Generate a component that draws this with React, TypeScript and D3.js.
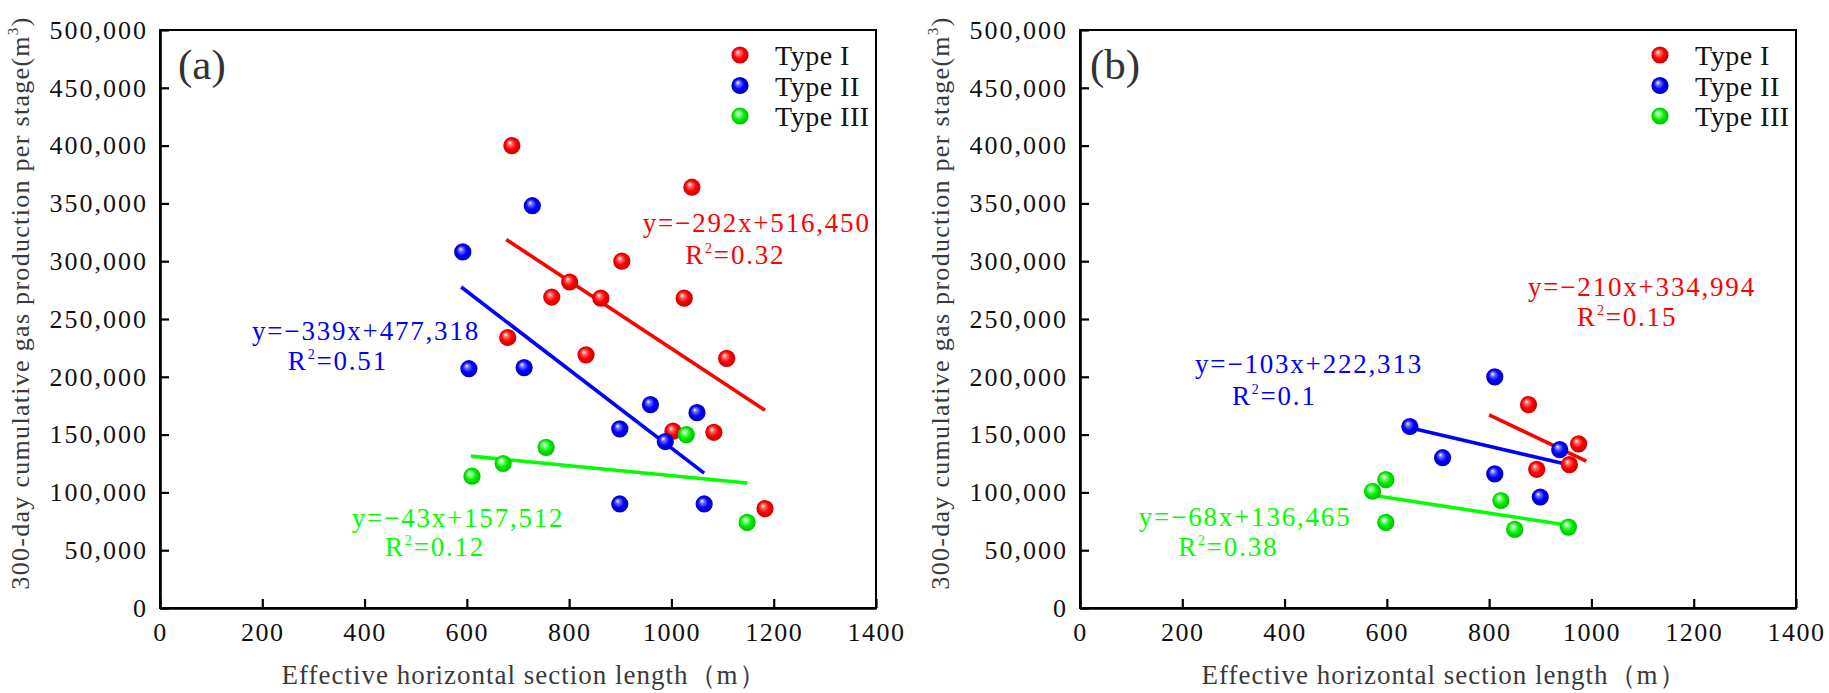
import { useEffect, useRef } from "react";
import * as d3 from "d3";

type Pt = [number, number];

// axis ticks
const xTicks = [0, 200, 400, 600, 800, 1000, 1200, 1400];
const yTicks = [0, 50000, 100000, 150000, 200000, 250000, 300000, 350000, 400000, 450000, 500000];

const seriesNames = ["Type I", "Type II", "Type III"];
const seriesColors = ["#ff0000", "#0000ff", "#00ff00"];

// panel (a) points: [length m, gas m3]
const aTypeI: Pt[] = [
  [688, 400000], [1040, 364000], [903, 300000], [801, 282000], [766, 269000],
  [862, 268000], [1025, 268000], [680, 234000], [833, 219000], [1108, 216000],
  [1003, 153000], [1083, 152000], [1183, 86000],
];
const aTypeII: Pt[] = [
  [592, 308000], [728, 348000], [604, 207000], [712, 208000], [959, 176000],
  [1050, 169000], [899, 155000], [988, 144000], [899, 90000], [1064, 90000],
];
const aTypeIII: Pt[] = [
  [610, 114000], [671, 125000], [755, 139000], [1029, 150000], [1148, 74000],
];
const aSlopes = [-292, -339, -43];
const aIntercepts = [516450, 477318, 157512];
const aFitRanges: Pt[] = [[677, 1183], [589, 1064], [608, 1148]];
const aEquations = ["y=\u2212292x+516,450", "y=\u2212339x+477,318", "y=\u221243x+157,512"];
const aR2 = ["0.32", "0.51", "0.12"];

// panel (b) points
const bTypeI: Pt[] = [[877, 176000], [893, 120000], [957, 124000], [975, 142000]];
const bTypeII: Pt[] = [
  [811, 200000], [645, 157000], [709, 130000], [811, 116000], [938, 137000], [900, 96000],
];
const bTypeIII: Pt[] = [
  [572, 101000], [598, 111000], [598, 74000], [823, 93000], [850, 68000], [955, 70000],
];
const bSlopes = [-210, -103, -68];
const bIntercepts = [334994, 222313, 136465];
const bFitRanges: Pt[] = [[800, 990], [645, 945], [572, 955]];
const bEquations = ["y=\u2212210x+334,994", "y=\u2212103x+222,313", "y=\u221268x+136,465"];
const bR2 = ["0.15", "0.1", "0.38"];

// where the equation labels sit (data units)
const aEqAt: Pt[] = [[944, 325000], [180, 232000], [375, 70000]];
const aR2At: Pt[] = [[1027, 298000], [250, 206000], [440, 45000]];
const bEqAt: Pt[] = [[876, 270000], [225, 203000], [115, 71000]];
const bR2At: Pt[] = [[972, 244000], [297, 176000], [192, 45000]];

const W = 1829;
const H = 693;
const FONT = "'Liberation Serif', 'Times New Roman', serif";

interface PanelOpts {
  left: number;
  tag: string;
  tagDx: number;
  series: Pt[][];
  slopes: number[];
  intercepts: number[];
  fitRanges: Pt[];
  equations: string[];
  r2: string[];
  eqAt: Pt[];
  r2At: Pt[];
}

function drawPanel(svg: d3.Selection<SVGSVGElement, unknown, null, undefined>, o: PanelOpts) {
  const top = 30;
  const bottom = 608;
  const plotW = 716;

  const x = d3.scaleLinear().domain([0, 1400]).range([o.left, o.left + plotW]);
  const y = d3.scaleLinear().domain([0, 500000]).range([bottom, top]);

  const g = svg.append("g");

  // frame (top / right)
  g.append("rect")
    .attr("x", o.left)
    .attr("y", top)
    .attr("width", plotW)
    .attr("height", bottom - top)
    .attr("fill", "none")
    .attr("stroke", "#000")
    .attr("stroke-width", 2);

  // y axis
  const yAxis = g
    .append("g")
    .attr("transform", `translate(${o.left},0)`)
    .call(
      d3.axisLeft(y)
        .tickValues(yTicks)
        .tickSizeInner(-9)
        .tickSizeOuter(0)
        .tickPadding(12)
        .tickFormat((d) => d3.format(",")(d as number))
    );
  yAxis.select(".domain").attr("stroke-width", 2.6);
  yAxis.selectAll(".tick line").attr("stroke-width", 2.2);
  yAxis
    .selectAll("text")
    .attr("fill", "#111")
    .style("font-family", FONT)
    .style("font-size", "26px")
    .style("letter-spacing", "2px");

  // x axis
  const xAxis = g
    .append("g")
    .attr("transform", `translate(0,${bottom})`)
    .call(
      d3.axisBottom(x)
        .tickValues(xTicks)
        .tickSizeInner(-9)
        .tickSizeOuter(0)
        .tickPadding(15)
        .tickFormat((d) => String(d))
    );
  xAxis.select(".domain").attr("stroke-width", 2.6);
  xAxis.selectAll(".tick line").attr("stroke-width", 2.2);
  xAxis
    .selectAll("text")
    .attr("fill", "#111")
    .style("font-family", FONT)
    .style("font-size", "26px")
    .style("letter-spacing", "1.5px");

  // axis titles
  g.append("text")
    .attr("x", (o.left + o.left + plotW) / 2 + 6)
    .attr("y", 684)
    .attr("text-anchor", "middle")
    .attr("fill", "#3a3a3a")
    .style("font-family", FONT)
    .style("font-size", "27px")
    .style("letter-spacing", "1px")
    .text("Effective horizontal section length\uff08m\uff09");

  const yt = g
    .append("text")
    .attr("transform", `translate(${o.left - 131},303) rotate(-90)`)
    .attr("text-anchor", "middle")
    .attr("fill", "#3a3a3a")
    .style("font-family", FONT)
    .style("font-size", "26px")
    .style("letter-spacing", "1.3px");
  yt.append("tspan").text("300-day cumulative gas production per stage(m");
  yt.append("tspan").attr("dy", -11).style("font-size", "15px").text("3");
  yt.append("tspan").attr("dy", 11).text(")");

  // panel tag
  g.append("text")
    .attr("x", o.left + o.tagDx)
    .attr("y", 79)
    .attr("fill", "#333")
    .style("font-family", FONT)
    .style("font-size", "43px")
    .text(o.tag);

  // fit lines
  o.slopes.forEach((m, i) => {
    const [x0, x1] = o.fitRanges[i];
    const pts: Pt[] = [x0, x1].map((v) => [v, m * v + o.intercepts[i]] as Pt);
    g.append("path")
      .datum(pts)
      .attr("fill", "none")
      .attr("stroke", seriesColors[i])
      .attr("stroke-width", 3.6)
      .attr("d", d3.line<Pt>().x((d) => x(d[0])).y((d) => y(d[1])));
  });

  // points
  o.series.forEach((data, i) => {
    g.append("g")
      .selectAll("circle")
      .data(data)
      .join("circle")
      .attr("cx", (d) => x(d[0]))
      .attr("cy", (d) => y(d[1]))
      .attr("r", 8.6)
      .attr("fill", `url(#ball-${i})`);
  });

  // equation labels
  o.equations.forEach((eq, i) => {
    const c = seriesColors[i];
    g.append("text")
      .attr("x", x(o.eqAt[i][0]))
      .attr("y", y(o.eqAt[i][1]))
      .attr("fill", c)
      .style("font-family", FONT)
      .style("font-size", "27px")
      .style("letter-spacing", "1.8px")
      .text(eq);
    const r = g
      .append("text")
      .attr("x", x(o.r2At[i][0]))
      .attr("y", y(o.r2At[i][1]))
      .attr("fill", c)
      .style("font-family", FONT)
      .style("font-size", "27px")
      .style("letter-spacing", "1.8px");
    r.append("tspan").text("R");
    r.append("tspan").attr("dy", -11).style("font-size", "14px").text("2");
    r.append("tspan").attr("dy", 11).text("=" + o.r2[i]);
  });

  // legend
  seriesNames.forEach((name, i) => {
    const cy = 55 + i * 30.5;
    g.append("circle")
      .attr("cx", o.left + 580)
      .attr("cy", cy)
      .attr("r", 8.6)
      .attr("fill", `url(#ball-${i})`);
    g.append("text")
      .attr("x", o.left + 615)
      .attr("y", cy + 10)
      .attr("fill", "#111")
      .style("font-family", FONT)
      .style("font-size", "28px")
      .style("letter-spacing", "0.5px")
      .text(name);
  });
}

export default function App() {
  const svgRef = useRef<SVGSVGElement>(null);

  useEffect(() => {
    if (!svgRef.current) return;
    const svg = d3.select(svgRef.current);
    svg.selectAll("*").remove();

    // glossy ball gradients
    const defs = svg.append("defs");
    const shades = [
      ["#ffffff", "#ff7070", "#ff0000", "#c40000"],
      ["#ffffff", "#7070ff", "#0000ff", "#0000b4"],
      ["#ffffff", "#90ff90", "#00f000", "#00b400"],
    ];
    shades.forEach((s, i) => {
      const rg = defs
        .append("radialGradient")
        .attr("id", `ball-${i}`)
        .attr("cx", "50%")
        .attr("cy", "50%")
        .attr("r", "55%")
        .attr("fx", "36%")
        .attr("fy", "32%");
      rg.append("stop").attr("offset", "0%").attr("stop-color", s[0]);
      rg.append("stop").attr("offset", "22%").attr("stop-color", s[1]);
      rg.append("stop").attr("offset", "55%").attr("stop-color", s[2]);
      rg.append("stop").attr("offset", "100%").attr("stop-color", s[3]);
    });

    drawPanel(svg, {
      left: 160,
      tag: "(a)",
      tagDx: 18,
      series: [aTypeI, aTypeII, aTypeIII],
      slopes: aSlopes,
      intercepts: aIntercepts,
      fitRanges: aFitRanges,
      equations: aEquations,
      r2: aR2,
      eqAt: aEqAt,
      r2At: aR2At,
    });
    drawPanel(svg, {
      left: 1080,
      tag: "(b)",
      tagDx: 10,
      series: [bTypeI, bTypeII, bTypeIII],
      slopes: bSlopes,
      intercepts: bIntercepts,
      fitRanges: bFitRanges,
      equations: bEquations,
      r2: bR2,
      eqAt: bEqAt,
      r2At: bR2At,
    });
  }, []);

  return (
    <div style={{ position: "absolute", left: 0, top: 0, width: W, height: H, background: "#fff" }}>
      <svg ref={svgRef} width={W} height={H} viewBox={`0 0 ${W} ${H}`} style={{ display: "block" }} />
    </div>
  );
}
